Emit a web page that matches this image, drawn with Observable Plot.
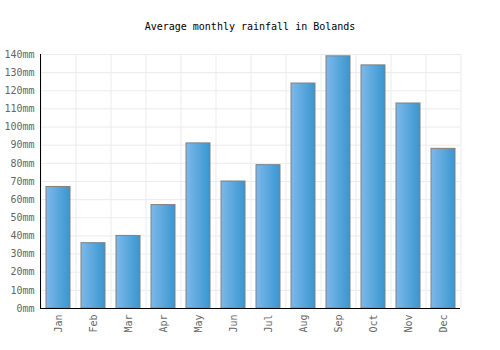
<!DOCTYPE html>
<html>
<head>
<meta charset="utf-8">
<script src="https://cdn.jsdelivr.net/npm/d3@7"></script>
<script src="https://cdn.jsdelivr.net/npm/@observablehq/plot@0.6"></script>
<style>
  body { margin: 0; background: #fff; }
  #title { height: 40px; box-sizing: border-box; padding-top: 21px; text-align: center;
    font: 10px "DejaVu Sans Mono", monospace; line-height: 12px; color: #000; width: 500px; }
</style>
</head>
<body>
<div id="title">Average monthly rainfall in Bolands</div>
<div id="chart"></div>
<script>
const months = ["Jan","Feb","Mar","Apr","May","Jun","Jul","Aug","Sep","Oct","Nov","Dec"];
const rainfall = [67, 36, 40, 57, 91, 70, 79, 124, 139, 134, 113, 88];
const yTicks = [0,10,20,30,40,50,60,70,80,90,100,110,120,130,140];

const data = months.map((m, i) => ({month: m, value: rainfall[i]}));
const step = 420 / 12;

const chart = Plot.plot({
  width: 500,
  height: 310,
  marginLeft: 40,
  marginRight: 40,
  marginTop: 14,
  marginBottom: 42,
  style: {fontFamily: "DejaVu Sans Mono, monospace", fontSize: "10px", color: "#666", background: "#fff"},
  x: {domain: months, paddingInner: 0.32, paddingOuter: 0.16, label: null},
  y: {domain: [0, 140], label: null},
  marks: [
    Plot.gridY(yTicks, {stroke: "#ebebeb", strokeOpacity: 1}),
    Plot.ruleX(months, {stroke: "#ebebeb", strokeOpacity: 1, dx: -step / 2}),
    Plot.ruleX(["Dec"], {stroke: "#ebebeb", strokeOpacity: 1, dx: step / 2}),
    Plot.barY(data, {x: "month", y: "value", fill: "url(#barGrad)", stroke: "#808080", strokeWidth: 1}),
    Plot.axisY(yTicks, {tickSize: 0, tickPadding: 6, tickFormat: d => d + "mm", fill: "#666", label: null}),
    Plot.axisX({tickSize: 0, tickPadding: 6, tickRotate: -90, fill: "#666", label: null}),
    Plot.frame({anchor: "left", stroke: "#000"}),
    Plot.ruleY([0], {stroke: "#000"})
  ]
});

const svg = d3.select(chart);
const defs = svg.insert("defs", ":first-child");
const g = defs.append("linearGradient").attr("id", "barGrad").attr("x1", "0").attr("x2", "1").attr("y1", "0").attr("y2", "0");
g.append("stop").attr("offset", "0%").attr("stop-color", "#7db9ea");
g.append("stop").attr("offset", "100%").attr("stop-color", "#3996d0");

document.getElementById("chart").appendChild(chart);
</script>
</body>
</html>
